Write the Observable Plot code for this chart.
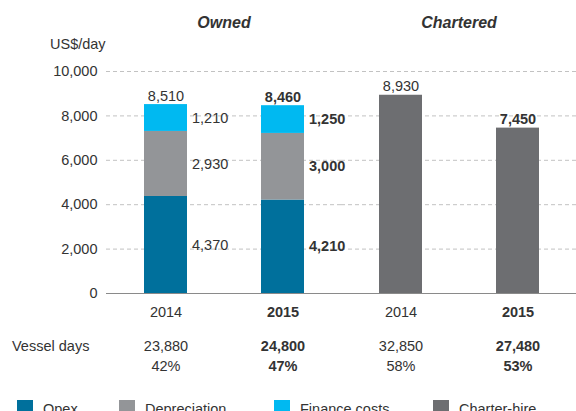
<!DOCTYPE html>
<html><head><meta charset="utf-8">
<script src="https://cdn.jsdelivr.net/npm/d3@7"></script>
<script src="https://cdn.jsdelivr.net/npm/@observablehq/plot@0.6"></script>
<style>
html,body{margin:0;padding:0;background:#fff;overflow:hidden}
#wrap{position:relative;width:576px;height:411px;font-family:"Liberation Sans",Arial,sans-serif;color:#333}
#chart{position:absolute;left:0;top:0}
.lbl{position:absolute;font-size:14.5px;line-height:1;white-space:nowrap}
.item{position:absolute;top:400px;height:17px;font-size:14.5px;line-height:1;white-space:nowrap}
.sw{position:absolute;left:0;top:0;width:16px;height:16px}
.item span.t{position:absolute;top:2px}
</style></head><body>
<div id="wrap"><div id="chart"></div><div id="extra"></div></div>
<script>
const groups = ["Owned", "Chartered"];
const years = ["2014", "2015"];
const rowGroup = ["Owned", "Owned", "Chartered", "Chartered"];
const rowYear = ["2014", "2015", "2014", "2015"];
const opex = [4370, 4210, 0, 0];
const depreciation = [2930, 3000, 0, 0];
const financeCosts = [1210, 1250, 0, 0];
const charterHire = [0, 0, 8930, 7450];
const totals = [8510, 8460, 8930, 7450];
const vesselDays = [23880, 24800, 32850, 27480];
const shares = ["42%", "47%", "58%", "53%"];
const yTicks = [0, 2000, 4000, 6000, 8000, 10000];
const components = ["Opex", "Depreciation", "Finance costs", "Charter-hire"];
const colors = ["#00709c", "#939598", "#00b9f1", "#6d6e71"];

const series = [opex, depreciation, financeCosts, charterHire];
const segments = [];
rowGroup.forEach((g, i) => {
  let acc = 0;
  series.forEach((s, k) => {
    const v = s[i];
    if (v > 0) {
      segments.push({group: g, year: rowYear[i], component: components[k], value: v, y1: acc, y2: acc + v, mid: acc + v / 2, labelled: k < 3});
      acc += v;
    }
  });
});
const rows = rowGroup.map((g, i) => ({group: g, year: rowYear[i], total: totals[i], days: vesselDays[i], share: shares[i], bold: rowYear[i] === "2015"}));
const fmt = d3.format(",");
const txt = "#333333";
const fs = 14.5;
const font = "Liberation Sans, Arial, sans-serif";

function rowText(value, dy, bold) {
  return Plot.text(rows.filter(r => r.bold === bold), {
    fx: "group", x: "year", text: value, frameAnchor: "bottom", lineAnchor: "middle", dy,
    fill: txt, fontSize: fs, fontWeight: bold ? "bold" : "normal"
  });
}

const chart = Plot.plot({
  width: 576,
  height: 392,
  marginTop: 71,
  marginBottom: 99,
  marginLeft: 105,
  marginRight: 0,
  style: {fontFamily: font, fontSize: fs + "px", color: txt, background: "#fff"},
  fx: {domain: groups, padding: 0, axis: null},
  x: {domain: years, paddingInner: 0.635, paddingOuter: 0.3175, axis: null},
  y: {domain: [0, 10000], axis: null},
  color: {domain: components, range: colors},
  marks: [
    Plot.ruleY(yTicks.filter(d => d > 0), {stroke: "#c2c2c2", strokeDasharray: "4,3", strokeWidth: 1}),
    Plot.barY(segments, {fx: "group", x: "year", y1: "y1", y2: "y2", fill: "component"}),
    Plot.ruleY([0], {stroke: "#8a8a8a", strokeWidth: 1.2}),
    Plot.axisY({ticks: yTicks, tickSize: 0, tickPadding: 9, tickFormat: fmt, label: null, fontSize: fs, fill: txt}),
    Plot.text(segments.filter(d => d.labelled && d.year === "2014"), {fx: "group", x: "year", y: "mid", text: d => fmt(d.value), textAnchor: "start", dx: 26, fill: txt, fontSize: fs}),
    Plot.text(segments.filter(d => d.labelled && d.year === "2015"), {fx: "group", x: "year", y: "mid", text: d => fmt(d.value), textAnchor: "start", dx: 26, fill: txt, fontSize: fs, fontWeight: "bold"}),
    Plot.text(rows.filter(r => !r.bold), {fx: "group", x: "year", y: "total", text: d => fmt(d.total), lineAnchor: "bottom", dy: -4, fill: txt, fontSize: fs}),
    Plot.text(rows.filter(r => r.bold), {fx: "group", x: "year", y: "total", text: d => fmt(d.total), lineAnchor: "bottom", dy: -4, fill: txt, fontSize: fs, fontWeight: "bold"}),
    rowText("year", 19, false),
    rowText("year", 19, true),
    rowText(d => fmt(d.days), 53, false),
    rowText(d => fmt(d.days), 53, true),
    rowText("share", 73, false),
    rowText("share", 73, true),
    Plot.text(groups, {fx: d => d, text: d => d, frameAnchor: "top", lineAnchor: "middle", dy: -49, fill: txt, fontSize: 16, fontWeight: "bold", fontStyle: "italic"})
  ]
});
document.getElementById("chart").appendChild(chart);

const extra = document.getElementById("extra");
function addLabel(text, left, top) {
  const el = document.createElement("div");
  el.className = "lbl"; el.textContent = text;
  el.style.left = left + "px"; el.style.top = top + "px";
  extra.appendChild(el);
}
addLabel("US$/day", 50, 37);
addLabel("Vessel days", 12, 339);

const legendLeft = [17, 119, 274, 433];
components.forEach((c, i) => {
  const it = document.createElement("div");
  it.className = "item"; it.style.left = legendLeft[i] + "px";
  const sw = document.createElement("div"); sw.className = "sw"; sw.style.background = colors[i];
  const t = document.createElement("span"); t.className = "t"; t.textContent = c; t.style.left = "26px";
  it.appendChild(sw); it.appendChild(t);
  extra.appendChild(it);
});
</script>
</body></html>
